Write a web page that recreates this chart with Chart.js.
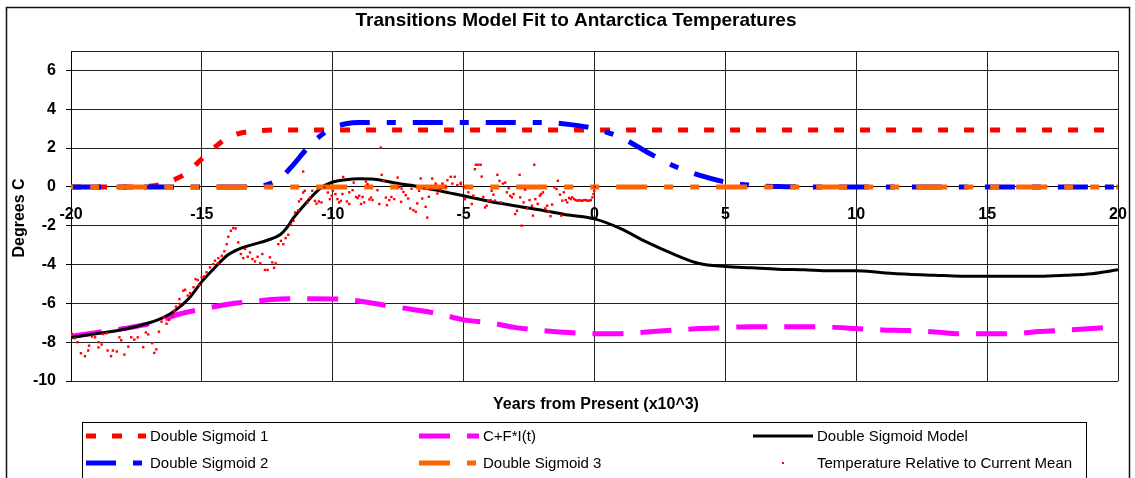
<!DOCTYPE html>
<html lang="en">
<head>
<meta charset="UTF-8">
<title>Transitions Model Fit to Antarctica Temperatures</title>
<style>
  html, body { margin: 0; padding: 0; background: #fff; }
  #wrap { width: 1135px; height: 478px; position: relative; }
</style>
</head>
<body>
<div id="wrap"><canvas id="chart"></canvas></div>

<script src="https://cdn.jsdelivr.net/npm/chart.js@4"></script>
<script>
    // --- data (years in thousands, degrees C) ---
    const yTicks = [-10, -8, -6, -4, -2, 0, 2, 4, 6];
    const yMin = -10, yMax = 7;
    const xMin = -20, xMax = 20, xStep = 5;

    const ds1Years = [-20, -17.5, -17, -16.5, -16, -15.5, -15, -14.5, -14, -13.5, -13, -12, 20];
    const ds1Values = [0, 0, 0.03, 0.15, 0.4, 0.8, 1.45, 2.05, 2.55, 2.78, 2.88, 2.93, 2.93];

    const ds2Years = [-20, -13, -12.5, -12, -11.5, -11, -10.5, -10, -9.5, -9, -2, -1, 0, 1, 2, 3, 4, 5, 6, 7, 8, 20];
    const ds2Values = [0, 0, 0.12, 0.45, 1.15, 1.95, 2.6, 3.05, 3.25, 3.32, 3.32, 3.22, 3.0, 2.55, 1.8, 1.1, 0.6, 0.25, 0.08, 0.02, 0, 0];

    const ds3Years = [-20, 20];
    const ds3Values = [0, 0];

    const cfiYears = [-20, -19, -18, -17, -16.5, -16, -15, -14, -13, -12, -11, -10, -9, -8, -7, -6, -5, -4, -3, -2, -1, 0,
                      1, 2, 3, 4, 5, 6, 7, 8, 9, 10, 11, 12, 13, 14, 15, 16, 17, 18, 19, 20];
    const cfiValues = [-7.7, -7.5, -7.3, -7.05, -6.85, -6.6, -6.3, -6.05, -5.9, -5.78, -5.76, -5.77, -5.88, -6.1, -6.3, -6.52, -6.85, -7.0, -7.25, -7.4, -7.5, -7.56,
                       -7.56, -7.48, -7.38, -7.3, -7.25, -7.2, -7.2, -7.2, -7.22, -7.3, -7.37, -7.4, -7.47, -7.57, -7.56, -7.56, -7.45, -7.38, -7.3, -7.2];

    const modelYears = [-20, -19, -18, -17, -16.5, -16, -15.5, -15, -14.5, -14, -13.5, -13, -12.5, -12, -11.75, -11.5, -11, -10.5, -10, -9.5, -9, -8.5, -8,
                        -7.5, -7, -6.5, -6, -5.5, -5, -4, -3, -2, -1, 0, 1, 2, 3, 4, 5, 6, 7, 8, 9, 10, 11, 12, 13, 14, 15, 16, 17, 18, 19, 20];
    const modelValues = [-7.76, -7.55, -7.35, -7.0, -6.75, -6.35, -5.75, -4.88, -4.15, -3.5, -3.15, -2.95, -2.75, -2.45, -2.1, -1.6, -0.8, -0.1, 0.25, 0.37, 0.42, 0.4, 0.3,
                         0.17, 0.08, -0.05, -0.18, -0.32, -0.46, -0.75, -0.98, -1.2, -1.45, -1.65, -2.15, -2.85, -3.45, -3.95, -4.1, -4.17, -4.24, -4.27, -4.32, -4.32, -4.42, -4.5, -4.55, -4.6, -4.6, -4.6, -4.6, -4.55, -4.47, -4.27];

    const tempYears = [
        -19.97, -19.85, -19.75, -19.62, -19.47, -19.34, -19.31, -19.2, -19.08, -18.95, -18.95, -18.83, -18.77, -18.64, -18.6, -18.47, -18.4, -18.25, -18.15, -18.08,
        -17.96, -17.81, -17.7, -17.58, -17.45, -17.24, -17.14, -17.05, -16.9, -16.82, -16.74, -16.64, -16.54, -16.45, -16.35, -16.25, -16.13, -16.05, -15.99, -15.86,
        -15.84, -15.71, -15.64, -15.54, -15.45, -15.32, -15.24, -15.16, -15.1, -15.01,
        -14.91, -14.82, -14.69, -14.56, -14.5, -14.39, -14.37, -14.24, -14.14, -14.05, -13.99, -13.89, -13.8, -13.71, -13.61, -13.51, -13.42, -13.35, -13.25, -13.16,
        -13.07, -12.97, -12.87, -12.77, -12.69, -12.59, -12.49, -12.4, -12.31, -12.24, -12.18, -12.08, -11.98, -11.89, -11.8, -11.7, -11.6, -11.5, -11.44, -11.31,
        -11.29, -11.21, -11.13, -11.13, -11.07, -10.96, -10.87, -10.78, -10.68, -10.62, -10.53, -10.43, -10.32, -10.19, -10.11, -10.04,
        -10.0, -9.9, -9.82, -9.76, -9.69, -9.63, -9.6, -9.46, -9.37, -9.37, -9.24, -9.2, -9.11, -9.05, -8.99, -8.92, -8.86, -8.8, -8.73, -8.67,
        -8.6, -8.54, -8.48, -8.29, -8.22, -8.17, -8.13, -8.06, -7.97, -7.93, -7.84, -7.76, -7.65, -7.52, -7.46, -7.39, -7.37, -7.3, -7.21, -7.12,
        -7.04, -6.99, -6.92, -6.83, -6.77, -6.7, -6.64, -6.58, -6.52, -6.45, -6.39, -6.33, -6.26, -6.2, -6.07, -6.0, -5.88, -5.81, -5.68, -5.62,
        -5.49, -5.43, -5.34, -5.24, -5.11,
        -5.11, -5.0, -4.95, -4.82, -4.69, -4.63, -4.57, -4.53, -4.44, -4.35, -4.31, -4.25, -4.18, -4.12, -4.06, -3.97, -3.93, -3.86, -3.8, -3.71,
        -3.63, -3.58, -3.5, -3.41, -3.35, -3.28, -3.22, -3.16, -3.09, -3.03, -2.96, -2.86, -2.84, -2.78, -2.71, -2.65, -2.58, -2.48, -2.39, -2.35,
        -2.3, -2.26, -2.17, -2.09, -2.04, -1.97, -1.88, -1.81, -1.75, -1.68, -1.62, -1.53, -1.45, -1.4, -1.32, -1.27, -1.23, -1.17, -1.1, -1.04,
        -0.97, -0.91, -0.85, -0.78, -0.72, -0.65, -0.59, -0.52, -0.46, -0.4, -0.33, -0.27, -0.2, -0.14, -0.08, -0.04, -0.01, 0.01
    ];
    const tempValues = [
        -7.56, -7.8, -8.0, -8.57, -8.72, -8.43, -8.18, -7.71, -7.75, -8.0, -8.27, -8.12, -7.58, -7.54, -8.43, -8.72, -8.43, -8.48, -7.75, -7.9,
        -8.64, -8.23, -7.75, -7.87, -7.75, -8.26, -7.5, -7.6, -8.05, -8.55, -8.37, -7.46, -6.94, -6.72, -7.05, -6.85, -6.65, -6.38, -6.17, -5.78,
        -6.03, -5.35, -5.3, -5.6, -5.47, -5.17, -4.75, -4.8, -5.05, -4.66,
        -4.61, -4.4, -4.15, -3.98, -3.8, -3.93, -3.67, -3.55, -3.32, -2.95, -2.57, -2.26, -2.12, -2.14, -2.86, -3.46, -3.67, -3.2, -3.6, -3.38,
        -3.72, -3.84, -3.6, -3.94, -3.46, -4.28, -4.28, -3.63, -3.89, -4.17, -3.94, -2.95, -2.78, -2.95, -2.64, -2.47, -1.92, -1.75, -1.32, -1.2,
        -0.75, -0.63, 0.79, -0.29, -0.2, -0.8, -0.55, -0.2, -0.72, -0.86, -0.75, -0.8, -0.03, -0.29, -0.63, -0.46,
        -0.2, -0.37, -0.63, -0.8, -0.72, -0.37, 0.51, -0.75, -0.28, -0.88, -0.17, 0.22, -0.52, -0.58, -0.46, -0.88, -0.52, -0.8, 0.27, 0.14,
        -0.65, -0.55, -0.68, -0.17, -0.88, 2.02, 0.62, 0.31, -0.55, -0.94, -0.68, -0.52, -0.63, 0.48, 0.0, -0.77, -0.09, -0.26, -0.43, -0.6,
        -1.11, -0.09, -1.2, -1.28, -0.85, -0.2, 0.43, -0.6, -0.09, -1.03, -1.58, -0.51, -0.14, 0.43, 0.17, -0.34, -0.14, 0.17, 0.0, 0.34,
        0.52, 0.17, 0.52, 0.09, 0.21,
        0.14, 0.0, -0.63, -0.28, -0.88, -0.45, 0.91, 1.14, 1.14, 1.14, 0.53, -0.52, -1.06, -0.97, -0.71, -0.68, -0.2, -0.4, -0.71, 0.62,
        0.31, -0.8, 0.17, 0.22, -0.28, -0.07, -0.46, -0.54, -0.37, -1.4, -1.23, 0.62, -0.54, -2.0, -0.8, -0.14, -1.11, -0.68, -0.97, -1.48,
        1.14, -0.63, -0.88, -0.45, -0.37, -0.28, -1.11, -0.97, -1.26, -1.51, -0.91, -0.03, -0.11, 0.31, -0.4, -1.48, -0.71, -0.28, -0.68, -0.8,
        -0.57, -0.63, -0.54, -0.63, -0.68, -0.71, -0.68, -0.71, -0.71, -0.68, -0.68, -0.71, -0.71, -0.68, -0.54, -0.37, -0.2, 0.0
    ];

    const FONT = 'Arial, "Liberation Sans", sans-serif';
    Chart.defaults.font.family = FONT;
    Chart.defaults.color = '#000';

    const pts = (xs, ys) => xs.map((x, i) => ({ x: x, y: ys[i] }));

    // legend layout like the Excel box: 3 columns x 2 rows
    const legendRows = [
        ['Double Sigmoid 1', 'C+F*I(t)', 'Double Sigmoid Model'],
        ['Double Sigmoid 2', 'Double Sigmoid 3', 'Temperature Relative to Current Mean']
    ];

    const framePlugin = {
        id: 'frame',
        afterDraw(chart) {
            const ctx = chart.ctx;
            ctx.save();
            // outer chart border
            ctx.strokeStyle = '#111';
            ctx.lineWidth = 1.5;
            ctx.strokeRect(6.5, 7.5, 1123, 520);

            ctx.fillStyle = '#000';
            ctx.textAlign = 'center';
            ctx.textBaseline = 'middle';
            ctx.font = 'bold 19px ' + FONT;
            ctx.fillText('Transitions Model Fit to Antarctica Temperatures', 576, 21);

            ctx.font = 'bold 16px ' + FONT;
            ctx.fillText('Years from Present (x10^3)', 596, 405);

            ctx.save();
            ctx.translate(20, 218);
            ctx.rotate(-Math.PI / 2);
            ctx.fillText('Degrees C', 0, 0);
            ctx.restore();

            // legend box
            ctx.strokeStyle = '#000';
            ctx.lineWidth = 1;
            ctx.strokeRect(82.5, 422.5, 1004, 80);

            const colX = [86, 419, 753];
            const rowY = [436, 463];
            ctx.font = '15px ' + FONT;
            ctx.textAlign = 'left';
            legendRows.forEach((row, r) => {
                row.forEach((label, c) => {
                    const ds = chart.data.datasets.find(d => d.label === label);
                    const x0 = colX[c], y = rowY[r];
                    if (ds.showLine === false) {
                        ctx.fillStyle = ds.backgroundColor;
                        ctx.fillRect(x0 + 29, y - 1, 2, 2);
                    } else {
                        ctx.beginPath();
                        ctx.setLineDash(ds.borderDash || []);
                        ctx.lineDashOffset = 0;
                        ctx.strokeStyle = ds.borderColor;
                        ctx.lineWidth = ds.borderWidth;
                        ctx.moveTo(x0, y);
                        ctx.lineTo(x0 + 60, y);
                        ctx.stroke();
                        ctx.setLineDash([]);
                    }
                    ctx.fillStyle = '#000';
                    ctx.fillText(label, x0 + 64, y + 1);
                });
            });
            ctx.restore();
        }
    };

    const tickFont = { size: 16, weight: 'bold' };

    new Chart(document.getElementById('chart'), {
        type: 'line',
        data: {
            datasets: [
                {
                    label: 'Temperature Relative to Current Mean',
                    type: 'scatter',
                    data: pts(tempYears, tempValues),
                    showLine: false,
                    backgroundColor: '#ff0000',
                    borderColor: '#ff0000',
                    borderWidth: 0,
                    pointStyle: 'rect',
                    pointRadius: 1.7,
                    order: 0
                },
                {
                    label: 'Double Sigmoid 3',
                    data: pts(ds3Years, ds3Values),
                    borderColor: '#ff6600',
                    borderWidth: 5,
                    borderDash: [31, 17, 9, 17, 9, 17],
                    borderDashOffset: 54.8,
                    pointRadius: 0,
                    order: 1
                },
                {
                    label: 'Double Sigmoid Model',
                    data: pts(modelYears, modelValues),
                    borderColor: '#000000',
                    borderWidth: 3,
                    cubicInterpolationMode: 'monotone',
                    pointRadius: 0,
                    order: 2
                },
                {
                    label: 'C+F*I(t)',
                    data: pts(cfiYears, cfiValues),
                    borderColor: '#ff00ff',
                    borderWidth: 5,
                    borderDash: [31, 17],
                    cubicInterpolationMode: 'monotone',
                    pointRadius: 0,
                    order: 3
                },
                {
                    label: 'Double Sigmoid 2',
                    data: pts(ds2Years, ds2Values),
                    borderColor: '#0000ff',
                    borderWidth: 5,
                    borderDash: [30, 17, 9, 17],
                    cubicInterpolationMode: 'monotone',
                    pointRadius: 0,
                    order: 4
                },
                {
                    label: 'Double Sigmoid 1',
                    data: pts(ds1Years, ds1Values),
                    borderColor: '#ff0000',
                    borderWidth: 5,
                    borderDash: [10, 16],
                    cubicInterpolationMode: 'monotone',
                    pointRadius: 0,
                    order: 5
                }
            ]
        },
        options: {
            responsive: true,
            maintainAspectRatio: false,
            animation: false,
            layout: { padding: { left: 0, top: 51, right: 17, bottom: 97 } },
            plugins: {
                legend: { display: false },
                title: { display: false },
                tooltip: { enabled: false }
            },
            scales: {
                x: {
                    type: 'linear',
                    min: xMin,
                    max: xMax,
                    position: { y: 0 },
                    // labels sit below the zero line; an invisible tick mark makes the gap
                    ticks: { stepSize: xStep, padding: 0, font: tickFont, color: '#000', maxRotation: 0, autoSkip: false },
                    grid: { color: '#222', lineWidth: 1, drawTicks: true, tickLength: 18, tickColor: 'rgba(0,0,0,0)' },
                    border: { display: true, color: '#000', width: 1 }
                },
                y: {
                    type: 'linear',
                    min: yMin,
                    max: yMax,
                    afterBuildTicks: scale => {
                        scale.ticks = yTicks.concat([yMax]).map(v => ({ value: v }));
                    },
                    afterFit: scale => { scale.width = 71; },
                    ticks: {
                        padding: 10,
                        font: tickFont,
                        color: '#000',
                        callback: v => (v === yMax ? '' : v)
                    },
                    grid: {
                        color: '#222',
                        lineWidth: 1,
                        tickLength: 5,
                        tickColor: c => (c.tick && c.tick.value === yMax ? 'rgba(0,0,0,0)' : '#000')
                    },
                    border: { display: true, color: '#000', width: 1 }
                }
            }
        },
        plugins: [framePlugin]
    });
</script>
</body>
</html>
